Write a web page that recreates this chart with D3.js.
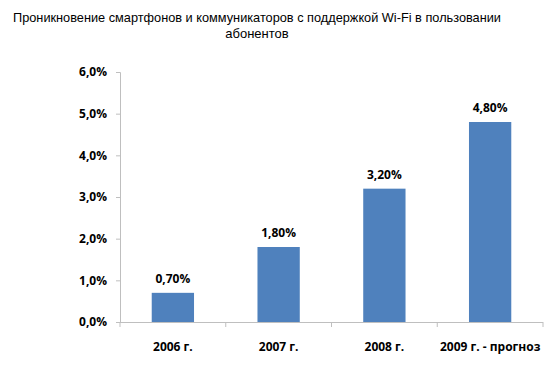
<!DOCTYPE html>
<html><head><meta charset="utf-8">
<script src="https://cdn.jsdelivr.net/npm/d3@7"></script>
<style>body{margin:0;background:#fff}svg{display:block}</style>
</head><body>
<svg id="c" width="555" height="366"></svg>
<script>
const categories = ["2006 г.", "2007 г.", "2008 г.", "2009 г. - прогноз"];
const values = [0.70, 1.80, 3.20, 4.80];
const valueLabels = ["0,70%", "1,80%", "3,20%", "4,80%"];
const yTicks = [0, 1, 2, 3, 4, 5, 6];
const titleLines = ["Проникновение смартфонов и коммуникаторов с поддержкой Wi-Fi в пользовании", "абонентов"];

const svg = d3.select("#c");
const font = "'Open Sans', 'Liberation Sans', Arial, sans-serif";
const x = d3.scaleBand().domain(categories).range([120, 543]).paddingInner(0.6).paddingOuter(0.3);
const y = d3.scaleLinear().domain([0, 6]).range([322, 72]);

svg.append("g").selectAll("text").data(titleLines).enter().append("text")
  .attr("x", 257).attr("y", (d,i) => 22 + i*16)
  .attr("text-anchor", "middle").attr("font-family", "'Liberation Sans', Arial, sans-serif").attr("font-size", 13)
  .attr("fill", "#000")
  .each(function(d,i){ if (i === 0) d3.select(this).attr("textLength", 488).attr("lengthAdjust", "spacingAndGlyphs"); })
  .text(d => d);

const yAxis = d3.axisLeft(y).tickValues(yTicks).tickSize(4)
  .tickFormat(d => d.toFixed(1).replace(".", ",") + "%");
const gy = svg.append("g").attr("transform", "translate(120,0)").call(yAxis);
gy.select(".domain").attr("stroke", "#BFBFBF");
gy.selectAll(".tick line").attr("stroke", "#BFBFBF");
gy.selectAll(".tick text").attr("font-family", font).attr("font-size", 12)
  .attr("font-weight", "bold").attr("fill", "#000").attr("x", -13);

const xAxis = d3.axisBottom(x).tickSize(0).tickFormat(d => d);
const gx = svg.append("g").attr("transform", "translate(0,322)").call(xAxis);
gx.select(".domain").attr("stroke", "#BFBFBF").attr("d", "M120,0.5H543");
gx.selectAll(".tick text").attr("font-family", font).attr("font-size", 12)
  .attr("font-weight", "bold").attr("fill", "#000").attr("dy", 0).attr("y", 29);
const bounds = d3.range(categories.length + 1).map(i => 120 + i * (423 / categories.length));
svg.append("g").selectAll("line").data(bounds).enter().append("line")
  .attr("x1", d => d).attr("x2", d => d).attr("y1", 322).attr("y2", 327)
  .attr("stroke", "#BFBFBF");

svg.append("g").selectAll("rect").data(values).enter().append("rect")
  .attr("x", (d,i) => x(categories[i])).attr("width", x.bandwidth())
  .attr("y", d => y(d)).attr("height", d => y(0) - y(d))
  .attr("fill", "#4F81BD");

svg.append("g").selectAll("text").data(values).enter().append("text")
  .attr("x", (d,i) => x(categories[i]) + x.bandwidth()/2)
  .attr("y", d => y(d) - 10)
  .attr("text-anchor", "middle").attr("font-family", font).attr("font-size", 12)
  .attr("font-weight", "bold").attr("fill", "#000").text((d,i) => valueLabels[i]);
</script>
</body></html>
